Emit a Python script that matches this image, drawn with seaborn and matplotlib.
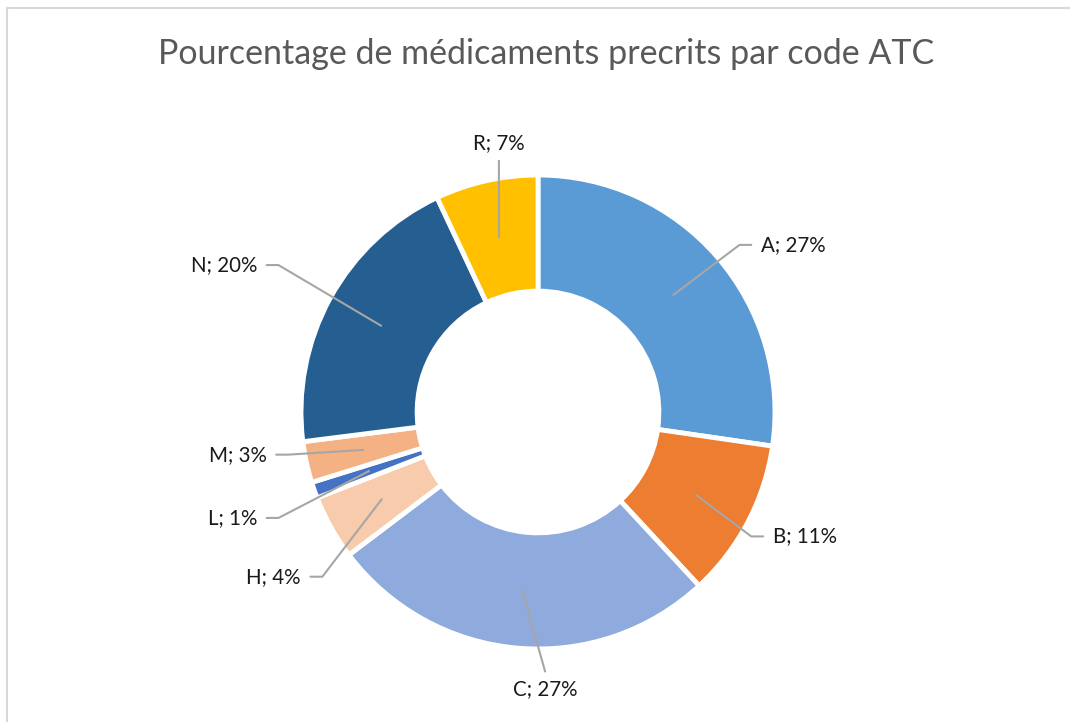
import numpy as np
import matplotlib
matplotlib.use("Agg")
import matplotlib.pyplot as plt
import seaborn as sns

sns.set_theme(style="white")
plt.rcParams['font.family'] = ['Lato', 'DejaVu Sans']

# Donnees (pourcentages)
codes = ["A", "B", "C", "H", "L", "M", "N", "R"]
pourcentages = [27.3, 10.8, 26.6, 4.4, 1.1, 2.8, 20.0, 7.0]
couleurs = ["#5B9BD5", "#ED7D31", "#8FAADC", "#F8CBAD",
            "#4472C4", "#F4B183", "#255E91", "#FFC000"]

# position des etiquettes (en rayons du donut) et alignement
label_pos = [(0.94, 0.705, "left"), (0.99, -0.525, "left"), (0.03, -1.17, "center"),
             (-1.0, -0.695, "right"), (-1.185, -0.447, "right"), (-1.145, -0.18, "right"),
             (-1.185, 0.62, "right"), (-0.165, 1.135, "center")]

W, H = 1070, 722
fig = plt.figure(figsize=(W / 100, H / 100), dpi=100)
fig.patch.set_facecolor("white")

# cadre gris du graphique
fig.add_artist(plt.Rectangle((7 / W, -0.1), 1.2, 1 - 8 / H + 0.1, transform=fig.transFigure,
                             fill=False, edgecolor="#D9D9D9", linewidth=1.5))

cx, cy, r = 538, 412, 237
ax = fig.add_axes([(cx - r) / W, (H - cy - r) / H, 2 * r / W, 2 * r / H])
wedges, _ = ax.pie(pourcentages, colors=couleurs, startangle=90, counterclock=False,
                   radius=1, wedgeprops=dict(width=0.49, edgecolor="white", linewidth=3.5))
ax.set_xlim(-1, 1)
ax.set_ylim(-1, 1)
ax.set_aspect("equal")
ax.axis("off")

mid_r = 1 - 0.49 / 2
for w, code, val, (tx, ty, ha) in zip(wedges, codes, pourcentages, label_pos):
    ang = np.deg2rad((w.theta1 + w.theta2) / 2)
    p0 = (mid_r * np.cos(ang), mid_r * np.sin(ang))
    if ha == "center":
        dy = 0.075 if ty < 0 else -0.075
        xs, ys = [p0[0], tx], [p0[1], ty + dy]
    else:
        s = 1 if ha == "left" else -1
        p2 = (tx - s * 0.04, ty)
        p1 = (p2[0] - s * 0.05, ty)
        xs, ys = [p0[0], p1[0], p2[0]], [p0[1], p1[1], p2[1]]
    ax.plot(xs, ys, color="#A6A6A6", linewidth=1.5, clip_on=False, zorder=3)
    ax.text(tx, ty, f"{code}; {round(val)}%", ha=ha, va="center",
            fontsize=14.8, color="#1A1A1A", clip_on=False)

fig.text(546 / W, 1 - 54 / H, "Pourcentage de médicaments precrits par code ATC",
         ha="center", va="center", fontsize=24.5, color="#595959")

fig.savefig("out.png", dpi=100)
